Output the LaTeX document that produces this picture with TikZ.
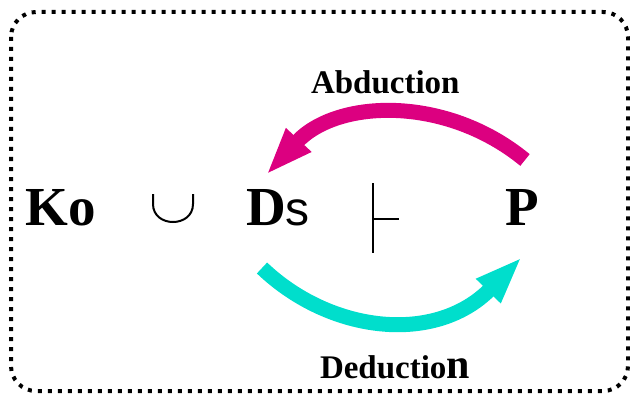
\documentclass[tikz,border=0pt]{standalone}
\usepackage{fontspec}
\setmainfont{Liberation Serif}
\newfontfamily\sansf{Liberation Sans}
\usetikzlibrary{arrows.meta}
\definecolor{abdcol}{RGB}{220,0,128}
\definecolor{dedcol}{RGB}{0,222,204}
\tikzset{
  txt/.style={inner sep=0pt, outer sep=0pt, anchor=base west},
  symline/.style={line width=2pt, line cap=butt},
  bigarrow/.style={line width=15pt, -{Triangle[length=48pt,width=31pt]}},
  frame/.style={line width=4pt, dash pattern=on 4pt off 6pt, rounded corners=25pt}
}
\begin{document}
\begin{tikzpicture}[x=1pt,y=-1pt]
\useasboundingbox (0,0) rectangle (630,396);
\draw[frame] (11,12) rectangle (628,391);

\node[txt] (ko) at (26,225) {\fontsize{55}{55}\selectfont\bfseries Ko};
\draw[symline] (153,194) -- (153,204) .. controls (153,228) and (193,228) .. (193,204) -- (193,194);
\node[txt] (ds) at (246,225) {{\fontsize{55}{55}\selectfont\bfseries D}{\fontsize{48}{48}\selectfont\sansf s}};
\draw[symline] (373,183) -- (373,253);
\draw[symline] (373,219) -- (399,219);
\node[txt] (p) at (505,225) {\fontsize{55}{55}\selectfont\bfseries P};

\node[txt] (abd) at (311,94) {\fontsize{33}{33}\selectfont\bfseries Abduction};
\node[txt] (ded) at (320,378) {{\fontsize{33}{33}\selectfont\bfseries Deductio}{\fontsize{42}{42}\selectfont\bfseries n}};

\coordinate (atail) at (525,160);
\coordinate (atip) at (266,175);
\coordinate (dtail) at (262,268);
\coordinate (dtip) at (522,257);
\draw[bigarrow, abdcol] (atail) .. controls (446,95) and (337,99) .. (atip);
\draw[bigarrow, dedcol] (dtail) .. controls (330,333) and (435,345) .. (dtip);
\end{tikzpicture}
\end{document}
